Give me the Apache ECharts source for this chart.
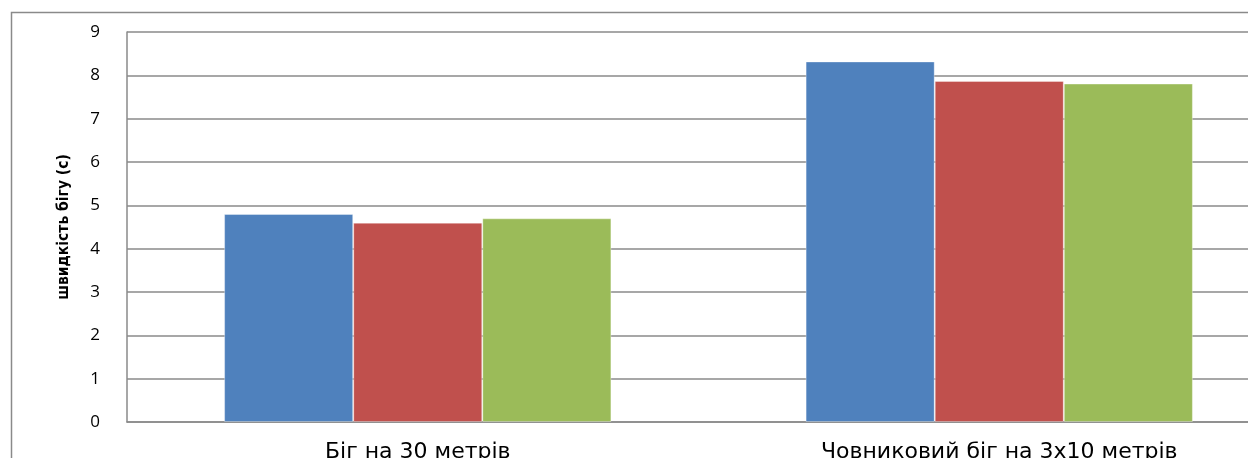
<!DOCTYPE html>
<html><head><meta charset="utf-8">
<script src="https://cdn.jsdelivr.net/npm/echarts@6/dist/echarts.min.js"></script>
<style>html,body{margin:0;padding:0;background:#fff;overflow:hidden}#c{width:1300px;height:520px}</style>
</head><body><div id="c"></div>
<script>
const categories = ['Біг на 30 метрів', 'Човниковий біг на 3x10 метрів'];
const seriesA = [4.80, 8.32];
const seriesB = [4.60, 7.87];
const seriesC = [4.70, 7.81];
const yTicks = [0, 1, 2, 3, 4, 5, 6, 7, 8, 9];
const yTitle = 'швидкість бігу (с)';

const chart = echarts.init(document.getElementById('c'), null, {renderer: 'canvas'});
const mk = (name, data, color) => ({
  name, type: 'bar', data, barGap: '0%', barCategoryGap: '33.4%',
  itemStyle: {color, borderColor: 'rgba(255,255,255,0.35)', borderWidth: 1},
  animation: false
});
chart.setOption({
  animation: false,
  graphic: [{type: 'rect', left: 9, top: 10, shape: {width: 1400, height: 600}, style: {fill: 'none', stroke: '#8a8a8a', lineWidth: 1.5}, z: -1}],
  grid: {left: 127, top: 32, width: 1163, height: 390, containLabel: false},
  xAxis: {
    type: 'category', data: categories,
    axisLine: {lineStyle: {color: '#8a8a8a', width: 1.5}},
    axisTick: {show: false},
    axisLabel: {color: '#000', fontSize: 22, margin: 19, fontFamily: 'DejaVu Sans'}
  },
  yAxis: {
    type: 'value', min: yTicks[0], max: yTicks[yTicks.length - 1], interval: 1,
    name: yTitle, nameLocation: 'middle', nameRotate: 90, nameGap: 55,
    nameTextStyle: {fontSize: 15.5, fontWeight: 'bold', color: '#000', fontFamily: 'DejaVu Sans Condensed'},
    axisLine: {show: true, lineStyle: {color: '#8a8a8a', width: 1.5}},
    axisTick: {show: false},
    axisLabel: {color: '#000', fontSize: 17, margin: 27, fontFamily: 'Open Sans'},
    splitLine: {lineStyle: {color: '#8a8a8a', width: 1.5}}
  },
  series: [mk('A', seriesA, '#4F81BD'), mk('B', seriesB, '#C0504D'), mk('C', seriesC, '#9BBB59')]
});
</script></body></html>
